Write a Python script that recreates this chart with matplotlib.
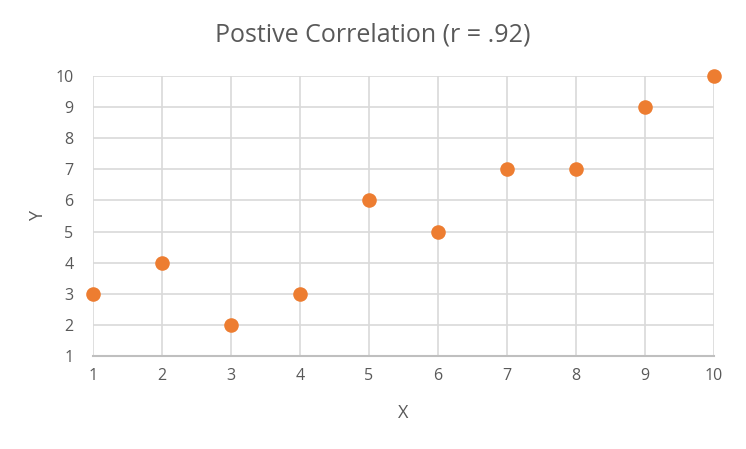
import matplotlib
matplotlib.use("Agg")
import matplotlib.pyplot as plt

x_values = [1, 2, 3, 4, 5, 6, 7, 8, 9, 10]
y_values = [3, 4, 2, 3, 6, 5, 7, 7, 9, 10]
x_ticks = [1, 2, 3, 4, 5, 6, 7, 8, 9, 10]
y_ticks = [1, 2, 3, 4, 5, 6, 7, 8, 9, 10]
title = "Postive Correlation (r = .92)"

plt.rcParams['font.family'] = ['Open Sans', 'DejaVu Sans']
text_color = '#595959'

fig = plt.figure(figsize=(7.46, 4.49), dpi=100)
ax = fig.add_axes([93/746, 1-356/449, (714-93)/746, (356-76)/449])
ax.scatter(x_values, y_values, s=110, color='#ED7D31', zorder=3, clip_on=False, linewidths=0)
ax.set_xlim(1, 10)
ax.set_ylim(1, 10)
ax.set_xticks(x_ticks)
ax.set_yticks(y_ticks)
ax.grid(True, color='#D9D9D9', linewidth=1.2)
ax.set_axisbelow(True)
for s in ['top', 'right', 'left']:
    ax.spines[s].set_visible(False)
ax.spines['bottom'].set_color('#BFBFBF')
ax.spines['bottom'].set_linewidth(1.5)
ax.tick_params(length=0, labelsize=11.5, labelcolor=text_color, pad=9)
ax.tick_params(axis='y', pad=14)
ax.set_xlabel('X', fontsize=13, color=text_color, labelpad=14)
ax.set_ylabel('Y', fontsize=13, color=text_color, labelpad=6)
fig.text(0.5, 1-35/449, title, ha='center', va='center', fontsize=18, color=text_color)
fig.savefig('out.png', dpi=100)
